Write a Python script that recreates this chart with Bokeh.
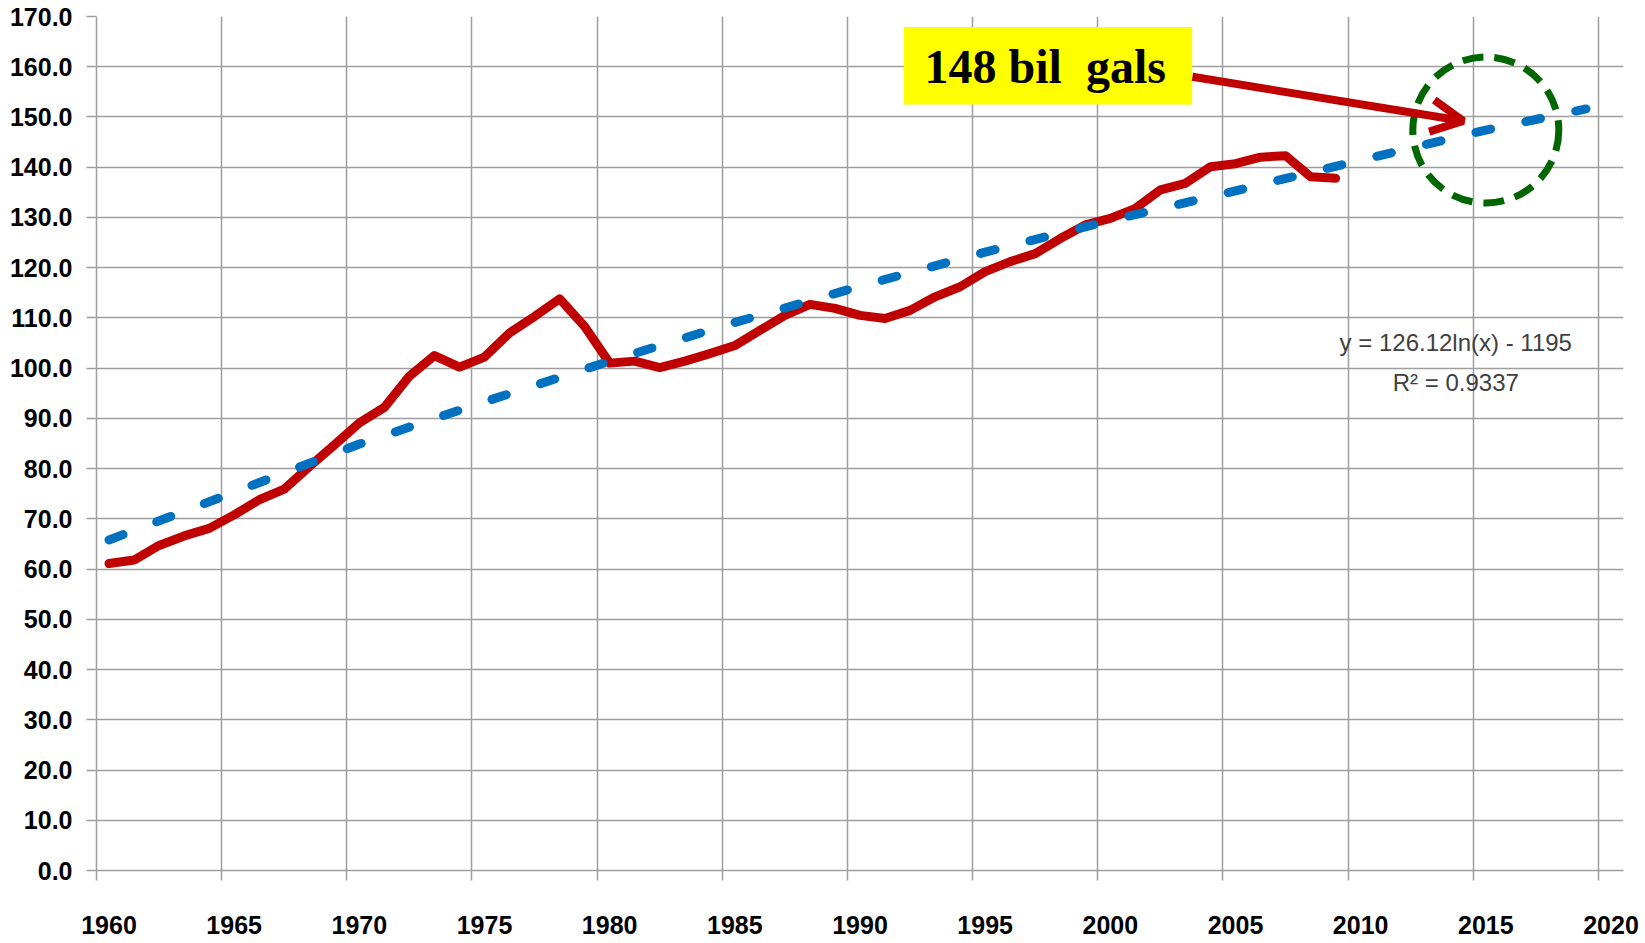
from bokeh.plotting import figure
from bokeh.models import Range1d, FixedTicker, NumeralTickFormatter, Label, BoxAnnotation, Arrow, OpenHead
from bokeh.embed import file_html
from bokeh.resources import INLINE

# ---- data ----
years = list(range(1960, 2010))
consumption = [61.1, 61.8, 64.7, 66.6, 68.1, 70.8, 73.8, 75.9, 80.4, 84.7,
               89.1, 92.2, 98.4, 102.5, 100.2, 102.2, 107.0, 110.3, 113.8, 108.3,
               101.0, 101.4, 100.1, 101.4, 102.9, 104.5, 107.5, 110.5, 112.7, 111.9,
               110.5, 109.9, 111.5, 114.2, 116.2, 119.2, 121.2, 122.8, 125.8, 128.5,
               129.8, 131.8, 135.5, 136.8, 140.1, 140.7, 142.0, 142.3, 138.1, 137.8]

trend_years = [1960, 1965, 1970, 1975, 1980, 1985, 1990, 1995, 2000, 2005, 2010, 2015, 2019]
trend_values = [65.8, 75.3, 84.9, 93.3, 101.4, 109.1, 116.3, 123.1, 129.4, 135.3, 141.4, 147.4, 151.6]

x_labels = ["1960", "1965", "1970", "1975", "1980", "1985", "1990",
            "1995", "2000", "2005", "2010", "2015", "2020"]
y_ticks = list(range(0, 171, 10))

highlight_year = 2015
highlight_value = trend_values[trend_years.index(highlight_year)]

annotation_text = "148 bil\u00a0 gals"
equation_text = "y = 126.12ln(x) - 1195"
r2_text = "R\u00b2 = 0.9337"

# ---- styling ----
RED = "#C00000"
BLUE = "#0070C0"
GREEN = "#006600"
GRID = "#9E9E9E"
FONT = "Liberation Sans"

label_ticks = [int(s) for s in x_labels]
boundary_ticks = [t - 0.5 for t in label_ticks]

p = figure(width=1640, height=943, output_backend="svg", toolbar_location=None,
           x_range=Range1d(1959.5, 2020.5), y_range=Range1d(0, 170),
           min_border_left=96, min_border_right=17, min_border_top=16, min_border_bottom=73)
p.outline_line_color = None
p.background_fill_color = "white"
p.border_fill_color = "white"

# grids
p.xgrid.ticker = FixedTicker(ticks=boundary_ticks)
p.ygrid.ticker = FixedTicker(ticks=y_ticks)
for g in (p.xgrid[0], p.ygrid[0]):
    g.grid_line_color = GRID
    g.grid_line_width = 1.5

# x axis: labels at category centres, tick marks at category boundaries
xa = p.xaxis[0]
xa.ticker = FixedTicker(ticks=label_ticks, minor_ticks=boundary_ticks)
xa.major_label_overrides = {t: s for t, s in zip(label_ticks, x_labels)}
xa.major_tick_out = 10
xa.major_tick_in = 0
xa.major_tick_line_color = None
xa.minor_tick_out = 10
xa.minor_tick_in = 0
xa.minor_tick_line_color = GRID
xa.minor_tick_line_width = 1.5
xa.axis_line_color = GRID
xa.axis_line_width = 1.5
xa.major_label_standoff = 35
xa.major_label_text_font = FONT
xa.major_label_text_font_style = "bold"
xa.major_label_text_font_size = "25px"
xa.major_label_text_color = "black"

ya = p.yaxis[0]
ya.ticker = FixedTicker(ticks=y_ticks)
ya.formatter = NumeralTickFormatter(format="0.0")
ya.major_tick_out = 10
ya.major_tick_in = 0
ya.major_tick_line_color = GRID
ya.major_tick_line_width = 1.5
ya.minor_tick_line_color = None
ya.axis_line_color = GRID
ya.axis_line_width = 1.5
ya.major_label_standoff = 14
ya.major_label_text_font = FONT
ya.major_label_text_font_style = "bold"
ya.major_label_text_font_size = "25px"
ya.major_label_text_color = "black"

# series
p.line(years, consumption, line_color=RED, line_width=9, line_join="round", line_cap="round")
p.line(trend_years, trend_values, line_color=BLUE, line_width=9, line_dash="15 36",
       line_cap="round", line_join="round")

# highlight circle
p.scatter([highlight_year], [highlight_value], marker="circle", size=146,
          fill_color=None, line_color=GREEN, line_width=7, line_dash="21 11")

# yellow callout
p.add_layout(BoxAnnotation(left=1991.75, right=2003.27, top=167.9, bottom=152.5,
                           fill_color="#FFFF00", fill_alpha=1.0, line_alpha=0))
p.add_layout(Label(x=1997.4, y=160.1, text=annotation_text, text_align="center",
                   text_baseline="middle", text_font="Liberation Serif",
                   text_font_style="bold", text_font_size="48px", text_color="black"))
p.add_layout(Arrow(end=OpenHead(size=32, line_color=RED, line_width=8),
                   x_start=2003.28, y_start=158.0, x_end=2014.1, y_end=149.2,
                   line_color=RED, line_width=8))

# trendline equation
p.add_layout(Label(x=2013.8, y=105.2, text=equation_text, text_align="center",
                   text_baseline="alphabetic", text_font=FONT, text_font_size="24px",
                   text_color="#404040"))
p.add_layout(Label(x=2013.8, y=97.2, text=r2_text, text_align="center",
                   text_baseline="alphabetic", text_font=FONT, text_font_size="24px",
                   text_color="#404040"))

open("out.html", "w").write(file_html(p, INLINE))
